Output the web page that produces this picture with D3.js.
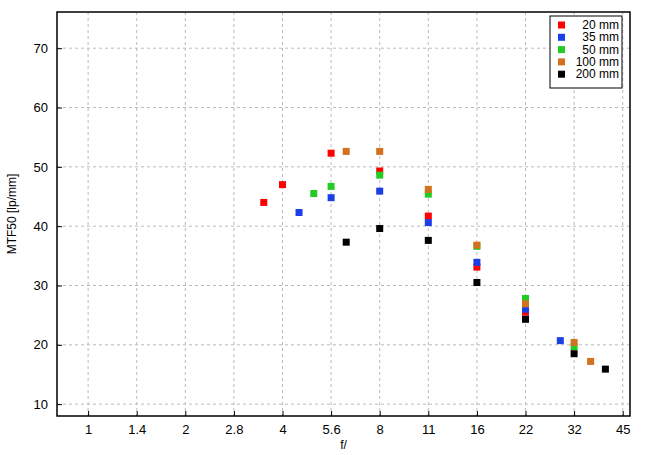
<!DOCTYPE html>
<html><head><meta charset="utf-8">
<script src="https://cdn.jsdelivr.net/npm/d3@7"></script>
<style>body{margin:0;background:#fff}text{font-family:"Liberation Sans",Arial,sans-serif}</style>
</head><body><svg id="c" width="655" height="455"></svg>
<script>
const seriesNames = ["20 mm", "35 mm", "50 mm", "100 mm", "200 mm"];
const seriesColors = ["#ff0000", "#1a3ee8", "#22cc22", "#d2711e", "#000000"];
const fNum20 = [3.5, 4, 5.6, 8, 11, 16, 22];
const mtf20 = [44.0, 47.0, 52.3, 49.3, 41.7, 33.1, 25.5];
const fNum35 = [4.5, 5.6, 8, 11, 16, 22, 29];
const mtf35 = [42.3, 44.8, 45.9, 40.6, 33.9, 26.0, 20.7];
const fNum50 = [5, 5.6, 8, 11, 16, 22, 32];
const mtf50 = [45.5, 46.7, 48.6, 45.4, 36.6, 27.8, 19.7];
const fNum100 = [6.3, 8, 11, 16, 22, 32, 36];
const mtf100 = [52.6, 52.6, 46.2, 36.8, 26.9, 20.4, 17.2];
const fNum200 = [6.3, 8, 11, 16, 22, 32, 40];
const mtf200 = [37.3, 39.6, 37.6, 30.5, 24.3, 18.5, 15.9];
const xTicks = [1, 1.4, 2, 2.8, 4, 5.6, 8, 11, 16, 22, 32, 45];
const yTicks = [10, 20, 30, 40, 50, 60, 70];

const allF = [fNum20, fNum35, fNum50, fNum100, fNum200];
const allY = [mtf20, mtf35, mtf50, mtf100, mtf200];
// position in half-stops; nominal f-numbers snap to their full stop
const stops = f => {
  const s = 2 * Math.log2(f), r = Math.round(s);
  return Math.abs(s - r) < 0.1 ? r : s;
};
const margin = {left: 57, right: 25, top: 12, bottom: 39};
const W = 655, H = 455;
const svg = d3.select("#c");
const x = d3.scaleLinear().domain([-0.64, 11.15]).range([margin.left, W - margin.right]);
const y = d3.scaleLinear().domain([8, 76.1]).range([H - margin.bottom, margin.top]);
const xs = f => x(stops(f));

const g = svg.append("g");
g.selectAll("line.gx").data(xTicks).join("line").attr("x1", d => xs(d)).attr("x2", d => xs(d))
  .attr("y1", y.range()[1]).attr("y2", y.range()[0]).attr("stroke", "#bbb").attr("stroke-dasharray", "3,3");
g.selectAll("line.gy").data(yTicks).join("line").attr("y1", d => y(d)).attr("y2", d => y(d))
  .attr("x1", x.range()[0]).attr("x2", x.range()[1]).attr("stroke", "#bbb").attr("stroke-dasharray", "3,3");

const xAxis = d3.axisBottom(x).tickValues(xTicks.map(stops)).tickFormat((d, i) => xTicks[i]).tickSize(-5).tickPadding(9);
const yAxis = d3.axisLeft(y).tickValues(yTicks).tickSize(-5).tickPadding(9);
svg.append("g").attr("transform", `translate(0,${y.range()[0]})`).call(xAxis);
svg.append("g").attr("transform", `translate(${x.range()[0]},0)`).call(yAxis);
svg.selectAll(".domain").remove();
svg.selectAll(".tick text").attr("font-size", 13).attr("fill", "#000");
svg.append("rect").attr("x", x.range()[0]).attr("y", y.range()[1])
  .attr("width", x.range()[1] - x.range()[0]).attr("height", y.range()[0] - y.range()[1])
  .attr("fill", "none").attr("stroke", "#000").attr("stroke-width", 1.5);

allF.forEach((fs, si) => {
  svg.append("g").selectAll("rect").data(fs.map((f, i) => [f, allY[si][i]])).join("rect")
    .attr("x", d => xs(d[0]) - 3.5).attr("y", d => y(d[1]) - 3.5).attr("width", 7).attr("height", 7)
    .attr("fill", seriesColors[si]);
});

svg.append("text").attr("x", (x.range()[0] + x.range()[1]) / 2).attr("y", 449).attr("text-anchor", "middle")
  .attr("font-size", 12).text("f/");
svg.append("text").attr("transform", `translate(16,${(y.range()[0] + y.range()[1]) / 2}) rotate(-90)`)
  .attr("text-anchor", "middle").attr("font-size", 12).text("MTF50 [lp/mm]");

const lg = svg.append("g").attr("transform", "translate(550,16)");
lg.append("rect").attr("width", 72).attr("height", 72).attr("fill", "#fff").attr("stroke", "#000");
seriesNames.forEach((n, i) => {
  lg.append("rect").attr("x", 8).attr("y", 9 + i * 12.3 - 3.5).attr("width", 7).attr("height", 7).attr("fill", seriesColors[i]);
  lg.append("text").attr("x", 69).attr("y", 9 + i * 12.3 + 4).attr("text-anchor", "end").attr("font-size", 12).text(n);
});
</script></body></html>
